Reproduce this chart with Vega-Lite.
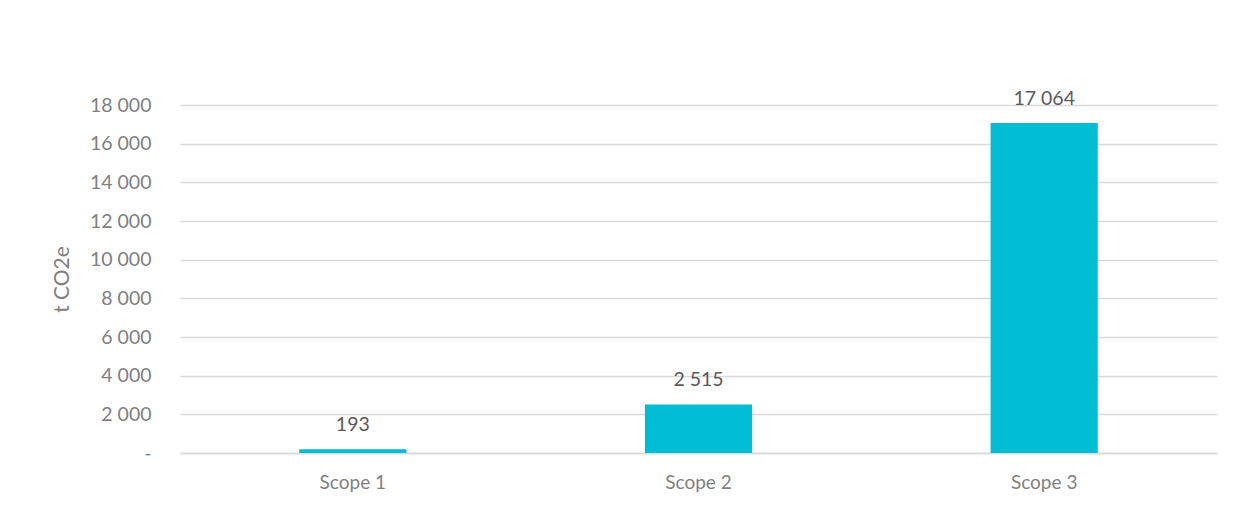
{
  "$schema": "https://vega.github.io/schema/vega-lite/v6.json",
  "autosize": "none",
  "width": 1037,
  "height": 348,
  "padding": {"left": 180, "top": 105, "right": 25, "bottom": 60},
  "background": "white",
  "config": {
    "view": {"stroke": null},
    "font": "Lato",
    "locale": {"number": {"decimal": ".", "thousands": " ", "grouping": [3], "currency": ["", ""]}}
  },
  "data": {"values": [
    {"scope": "Scope 1", "value": 193},
    {"scope": "Scope 2", "value": 2515},
    {"scope": "Scope 3", "value": 17064}
  ]},
  "encoding": {
    "x": {"field": "scope", "type": "nominal", "sort": null,
      "scale": {"paddingInner": 0.69, "paddingOuter": 0.345},
      "axis": {"title": null, "labelAngle": 0, "ticks": false, "domainColor": "#d9d9d9", "domainWidth": 1.5,
        "labelFontSize": 19, "labelColor": "#7f7f7f", "labelPadding": 20, "labelFont": "Lato"}},
    "y": {"field": "value", "type": "quantitative",
      "scale": {"domain": [0, 18000]},
      "axis": {"title": "t CO2e", "values": [0,2000,4000,6000,8000,10000,12000,14000,16000,18000],
        "labelExpr": "datum.value == 0 ? '-' : format(datum.value, ',')",
        "domain": false, "ticks": false, "gridColor": "#d9d9d9", "gridWidth": 1.5,
        "labelFontSize": 19.5, "labelColor": "#7f7f7f", "labelPadding": 29,
        "titleFontSize": 21, "titleFontWeight": "normal", "titleColor": "#7f7f7f",
        "titleX": -118, "titleY": 174, "titleAngle": -90, "titleBaseline": "middle", "titleAlign": "center"}}
  },
  "layer": [
    {"mark": {"type": "bar", "color": "#00BCD4"}},
    {"mark": {"type": "text", "baseline": "bottom", "dy": -14, "fontSize": 19.5, "color": "#595959"},
      "encoding": {"text": {"field": "value", "type": "quantitative", "format": ","}}}
  ]
}
